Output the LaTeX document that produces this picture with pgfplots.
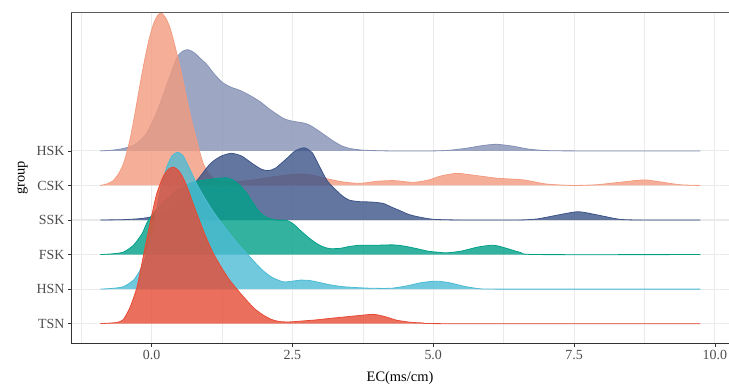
\documentclass[border=0pt]{standalone}
\usepackage{pgfplots}
\pgfplotsset{compat=1.18}
\usepackage{fontspec}
\setmainfont{Liberation Serif}
\definecolor{cHSK}{HTML}{8491B4}
\definecolor{cCSK}{HTML}{F39B7F}
\definecolor{cSSK}{HTML}{3C5488}
\definecolor{cFSK}{HTML}{00A087}
\definecolor{cHSN}{HTML}{4DBBD5}
\definecolor{cTSN}{HTML}{E64B35}
\definecolor{gridc}{HTML}{EBEBEB}
\definecolor{axc}{HTML}{333333}
\definecolor{tickc}{HTML}{4D4D4D}
\begin{document}
\begin{tikzpicture}
\begin{axis}[
  scale only axis, width=658bp, height=331.6bp,
  xmin=-1.43, xmax=10.25, ymin=0.423, ymax=10.02,
  axis lines*=left, axis line style={draw=none},
  tick align=outside, major tick length=3bp, minor tick length=0pt,
  xtick={0,2.5,5,7.5,10}, xticklabels={0.0,2.5,5.0,7.5,10.0},
  minor xtick={-1.25,1.25,3.75,6.25,8.75},
  ytick={1,2,3,4,5,6}, yticklabels={TSN,HSN,FSK,SSK,CSK,HSK},
  xmajorgrids, ymajorgrids, xminorgrids,
  major grid style={gridc, line width=1.1bp},
  minor grid style={gridc, line width=0.55bp},
  tick style={axc, line width=0.8bp},
  tick label style={font=\fontsize{14}{16}\selectfont, text=tickc},
  /pgf/number format/assume math mode=true,
  label style={font=\fontsize{14.5}{17}\selectfont},
  xlabel={EC(ms/cm)}, ylabel={group},
  xlabel style={at={(axis description cs:0.5,-0.1146)}, anchor=base},
  ylabel style={at={(axis description cs:-0.0705,0.5)}, anchor=base},
  every axis plot/.append style={line width=0.8bp, fill opacity=0.8, smooth, tension=0.4},
]
\addplot[draw=cHSK, fill=cHSK] coordinates {
(-0.91,6) (-0.7,6.02) (-0.5,6.07) (-0.3,6.18) (-0.1,6.48) (0.1,7.15) (0.3,8.05) (0.45,8.7) (0.55,8.88) (0.64,8.93) (0.75,8.85) (0.85,8.7) (0.98,8.5) (1.1,8.25) (1.25,7.99) (1.4,7.85) (1.57,7.75) (1.75,7.6) (1.93,7.42) (2.1,7.2) (2.34,6.94) (2.5,6.86) (2.69,6.81) (2.8,6.75) (2.93,6.62) (3.08,6.45) (3.22,6.29) (3.37,6.15) (3.52,6.07) (3.76,6.02) (4.2,6) (5.0,6) (5.3,6.02) (5.6,6.08) (5.9,6.16) (6.13,6.19) (6.4,6.14) (6.7,6.05) (7.0,6.01) (7.5,6) (9.74,6)};
\addplot[draw=cCSK, fill=cCSK] coordinates {
(-0.91,5) (-0.8,5.04) (-0.68,5.14) (-0.58,5.35) (-0.5,5.62) (-0.44,5.95) (-0.38,6.35) (-0.32,6.85) (-0.26,7.4) (-0.19,8.05) (-0.115,8.69) (-0.04,9.25) (0.03,9.65) (0.1,9.9) (0.17,9.99) (0.25,9.85) (0.33,9.55) (0.42,9.0) (0.51,8.4) (0.62,7.54) (0.7,6.95) (0.77,6.49) (0.85,6.0) (0.92,5.62) (1.0,5.38) (1.08,5.22) (1.16,5.14) (1.35,5.1) (1.6,5.12) (1.9,5.18) (2.2,5.26) (2.45,5.31) (2.64,5.33) (2.85,5.3) (3.1,5.2) (3.4,5.1) (3.7,5.06) (4.0,5.12) (4.3,5.14) (4.64,5.09) (4.9,5.15) (5.15,5.28) (5.42,5.35) (5.7,5.3) (6.13,5.21) (6.6,5.16) (7.01,5.04) (7.48,5.0) (7.9,5.02) (8.3,5.09) (8.73,5.16) (9.0,5.11) (9.38,5.02) (9.74,5)};
\addplot[draw=cSSK, fill=cSSK] coordinates {
(-0.91,4) (-0.5,4.01) (-0.2,4.04) (0.03,4.1) (0.2,4.22) (0.4,4.45) (0.6,4.8) (0.8,5.13) (1.0,5.55) (1.1,5.71) (1.25,5.86) (1.42,5.93) (1.6,5.85) (1.8,5.62) (1.95,5.47) (2.07,5.43) (2.2,5.5) (2.4,5.78) (2.55,6.0) (2.71,6.09) (2.85,5.95) (2.95,5.65) (3.05,5.33) (3.12,5.13) (3.2,4.98) (3.29,4.84) (3.4,4.68) (3.52,4.57) (3.7,4.53) (3.9,4.52) (4.11,4.48) (4.25,4.38) (4.41,4.27) (4.55,4.17) (4.71,4.1) (5.0,4.02) (5.5,4) (6.5,4) (6.84,4.03) (7.2,4.14) (7.57,4.24) (7.9,4.15) (8.31,4.02) (8.7,4) (9.74,4)};
\addplot[draw=cFSK, fill=cFSK] coordinates {
(-0.91,3) (-0.7,3.02) (-0.5,3.07) (-0.32,3.27) (-0.17,3.6) (-0.09,3.89) (0.0,4.13) (0.2,4.5) (0.4,4.8) (0.6,5.0) (0.8,5.12) (1.1,5.19) (1.33,5.22) (1.45,5.15) (1.57,5.0) (1.7,4.75) (1.81,4.47) (1.92,4.22) (2.04,4.08) (2.2,4.0) (2.4,3.99) (2.52,3.88) (2.64,3.7) (2.78,3.5) (2.93,3.32) (3.05,3.22) (3.17,3.17) (3.35,3.18) (3.5,3.23) (3.7,3.27) (4.0,3.27) (4.29,3.28) (4.5,3.24) (4.71,3.17) (4.9,3.1) (5.06,3.07) (5.24,3.05) (5.5,3.1) (5.8,3.22) (6.07,3.27) (6.3,3.18) (6.55,3.06) (6.84,3) (9.74,3)};
\addplot[draw=cHSN, fill=cHSN] coordinates {
(-0.91,2) (-0.7,2.02) (-0.5,2.07) (-0.32,2.26) (-0.2,2.56) (-0.085,3.03) (0.03,3.7) (0.15,4.85) (0.27,5.53) (0.36,5.85) (0.46,5.96) (0.55,5.88) (0.62,5.67) (0.7,5.4) (0.8,5.05) (0.95,4.62) (1.1,4.23) (1.25,3.9) (1.39,3.6) (1.54,3.3) (1.69,3.03) (1.83,2.78) (1.98,2.53) (2.15,2.33) (2.34,2.21) (2.5,2.23) (2.64,2.26) (2.8,2.25) (2.93,2.21) (3.15,2.13) (3.4,2.07) (3.8,2.03) (4.11,2.02) (4.29,2.03) (4.55,2.1) (4.8,2.19) (5.06,2.23) (5.3,2.18) (5.55,2.08) (5.83,2.01) (6.2,2) (9.74,2)};
\addplot[draw=cTSN, fill=cTSN] coordinates {
(-0.91,1) (-0.7,1.02) (-0.6,1.04) (-0.5,1.12) (-0.38,1.48) (-0.26,2.05) (-0.15,2.92) (-0.03,3.88) (0.09,4.75) (0.21,5.27) (0.3,5.47) (0.39,5.53) (0.48,5.43) (0.56,5.22) (0.65,4.88) (0.74,4.46) (0.83,4.07) (0.92,3.69) (1.01,3.34) (1.1,3.02) (1.25,2.6) (1.39,2.25) (1.54,1.95) (1.69,1.67) (1.83,1.43) (1.98,1.25) (2.13,1.12) (2.28,1.06) (2.45,1.05) (2.7,1.08) (2.93,1.11) (3.15,1.15) (3.4,1.19) (3.65,1.23) (3.94,1.27) (4.15,1.2) (4.35,1.1) (4.6,1.04) (4.82,1.02) (5.2,1) (9.74,1)};
\draw[axc, line width=0.8bp] (rel axis cs:0,1) -- (rel axis cs:0,0) -- (rel axis cs:1,0);
\draw[axc!80, line width=0.8bp] (rel axis cs:0,1) -- (rel axis cs:1,1);
\end{axis}
\pgfresetboundingbox
\path[use as bounding box] ([xshift=-71bp,yshift=-42bp]current axis.south west) rectangle ([yshift=12bp]current axis.north east);
\end{tikzpicture}
\end{document}
